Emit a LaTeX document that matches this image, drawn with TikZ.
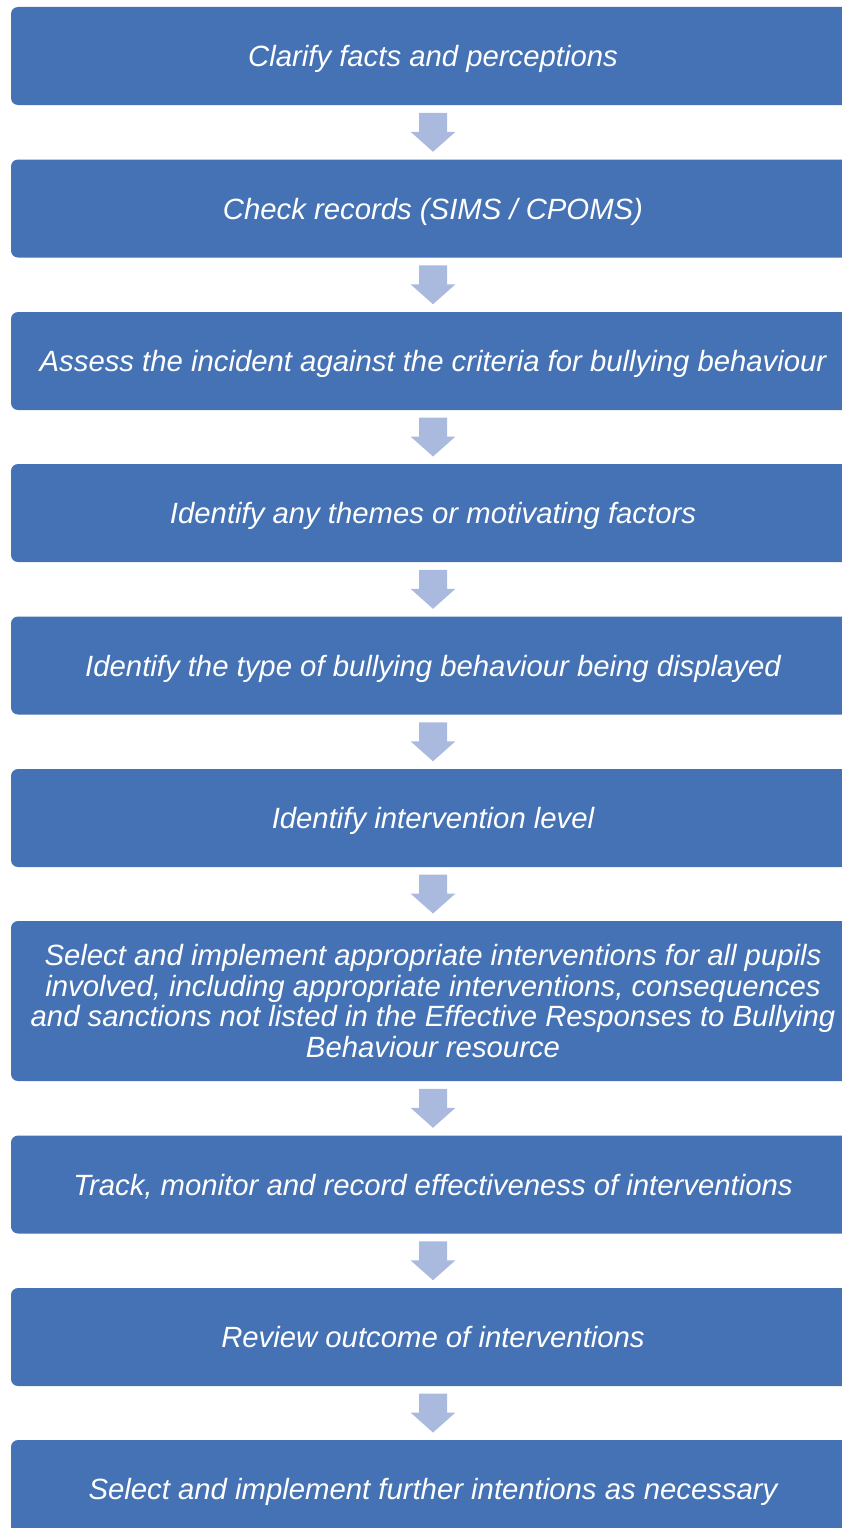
\documentclass[tikz,border=0pt]{standalone}
\usepackage{fontspec}
\setmainfont{Liberation Sans}
\usetikzlibrary{calc}

\definecolor{boxblue}{RGB}{69,114,180}
\definecolor{arrowblue}{RGB}{170,185,222}

\tikzset{
  stepbox/.style={fill=boxblue, rounded corners=7pt, minimum width=844pt,
    minimum height=98pt, inner sep=0pt, text=white, align=center,
    font=\fontsize{29.3}{30.4}\selectfont\itshape},
  linebox/.style={stepbox, text height=24pt, text depth=3pt},
  downarrow/.style={fill=arrowblue}
}

\begin{document}
\begin{tikzpicture}[x=1pt, y=-1pt]
    % Page frame (right and bottom edges cut the boxes)
    \useasboundingbox (0,0) rectangle (842,1528);
    \clip (0,0) rectangle (842,1528);

    % The steps
    \node[linebox] (b1) at (433,56) {Clarify facts and perceptions};
    \node[linebox] (b2) at (433,208.5) {Check records (SIMS / CPOMS)};
    \node[linebox] (b3) at (433,361) {Assess the incident against the criteria for bullying behaviour};
    \node[linebox] (b4) at (433,513) {Identify any themes or motivating factors};
    \node[linebox] (b5) at (433,665.5) {Identify the type of bullying behaviour being displayed};
    \node[linebox] (b6) at (433,818) {Identify intervention level};
    \node[stepbox, minimum height=160pt] (b7) at (433,1001)
      {Select and implement appropriate interventions for all pupils\\
       involved, including appropriate interventions, consequences\\
       and sanctions not listed in the Effective Responses to Bullying\\
       Behaviour resource};
    \node[linebox] (b8) at (433,1184.5) {Track, monitor and record effectiveness of interventions};
    \node[linebox] (b9) at (433,1337) {Review outcome of interventions};
    \node[linebox] (b10) at (433,1489) {Select and implement further intentions as necessary};

    % Block arrows between the steps
    \foreach \a/\b in {b1/b2, b2/b3, b3/b4, b4/b5, b5/b6, b6/b7, b7/b8, b8/b9, b9/b10} {
        \coordinate (m) at ($(\a.south)!0.5!(\b.north)$);
        \fill[downarrow] ($(m)+(-14,-19.5)$) -- ($(m)+(14,-19.5)$) -- ($(m)+(14,-0.5)$)
            -- ($(m)+(22.5,-0.5)$) -- ($(m)+(0,19.5)$) -- ($(m)+(-22.5,-0.5)$)
            -- ($(m)+(-14,-0.5)$) -- cycle;
    }
\end{tikzpicture}
\end{document}
